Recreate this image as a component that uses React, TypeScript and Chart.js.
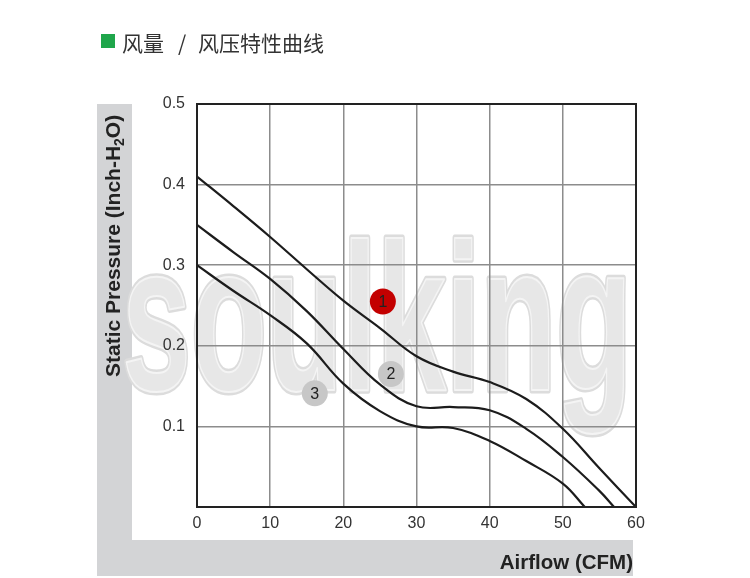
import React, { useEffect, useRef } from "react";
import { Chart, registerables } from "chart.js";

Chart.register(...registerables);

// ---- data ----
const curve1X = [0, 5, 10, 15, 20, 25, 30, 35, 40, 45, 50, 55, 60];
const curve1Y = [0.41, 0.373, 0.335, 0.295, 0.256, 0.222, 0.187, 0.168, 0.155, 0.134, 0.097, 0.048, 0];

const curve2X = [0, 5, 10, 15, 20, 25, 30, 35, 40, 45, 50, 55, 57];
const curve2Y = [0.35, 0.316, 0.283, 0.243, 0.196, 0.152, 0.125, 0.124, 0.12, 0.097, 0.062, 0.02, 0];

const curve3X = [0, 5, 10, 15, 20, 25, 30, 35, 40, 45, 50, 53];
const curve3Y = [0.3, 0.268, 0.238, 0.203, 0.153, 0.119, 0.1, 0.098, 0.082, 0.057, 0.029, 0];

const markerX = [25.4, 26.5, 16.1];
const markerY = [0.255, 0.165, 0.141];
const markerLabels = ["1", "2", "3"];

const xTickValues = [0, 10, 20, 30, 40, 50, 60];
const yTickLabels = ["", "0.1", "0.2", "0.3", "0.4", "0.5"];

const titleLeft = "风量";
const titleSlash = "/";
const titleRight = "风压特性曲线";
const xTitle = "Airflow (CFM)";
const yTitleMain = "Static Pressure (Inch-H";
const yTitleSub = "2";
const yTitleEnd = "O)";
const watermark = "soulking";

const toPts = (xs: number[], ys: number[]) => xs.map((x, i) => ({ x, y: ys[i] }));

const decorPlugin = {
  id: "decor",
  beforeDraw(chart: any) {
    const ctx = chart.ctx as CanvasRenderingContext2D;
    ctx.save();
    ctx.fillStyle = "#ffffff";
    ctx.fillRect(0, 0, chart.width, chart.height);
    // gray L-shaped bands
    ctx.fillStyle = "#d3d4d6";
    ctx.fillRect(97, 104, 35, 472);
    ctx.fillRect(97, 540, 536, 36);
    // watermark
    ctx.font = 'bold 210px "Liberation Sans", Arial, sans-serif';
    ctx.textBaseline = "alphabetic";
    ctx.textAlign = "left";
    const w = ctx.measureText(watermark).width;
    ctx.translate(122, 390);
    ctx.scale(510 / w, 1);
    ctx.lineJoin = "round";
    ctx.strokeStyle = "#dcdcdc";
    ctx.lineWidth = 7;
    ctx.strokeText(watermark, 0, 0);
    ctx.fillStyle = "#e7e7e7";
    ctx.fillText(watermark, 0, 0);
    ctx.strokeStyle = "#f4f4f4";
    ctx.lineWidth = 2;
    ctx.strokeText(watermark, 0, 0);
    ctx.restore();
  },
  afterDatasetsDraw(chart: any) {
    const ctx = chart.ctx as CanvasRenderingContext2D;
    const meta = chart.getDatasetMeta(3);
    ctx.save();
    ctx.font = '16px "Liberation Sans", Arial, sans-serif';
    ctx.fillStyle = "#222";
    ctx.textAlign = "center";
    ctx.textBaseline = "middle";
    meta.data.forEach((pt: any, i: number) => {
      ctx.fillText(markerLabels[i], pt.x, pt.y + 1);
    });
    ctx.restore();
  },
  afterDraw(chart: any) {
    const ctx = chart.ctx as CanvasRenderingContext2D;
    const a = chart.chartArea;
    ctx.save();
    // frame
    ctx.strokeStyle = "#222";
    ctx.lineWidth = 2;
    ctx.strokeRect(a.left, a.top, a.right - a.left, a.bottom - a.top);
    // header
    ctx.fillStyle = "#1fa64b";
    ctx.fillRect(101, 34, 14, 14);
    ctx.fillStyle = "#333";
    ctx.font = '21px "Noto Sans CJK SC", sans-serif';
    ctx.textBaseline = "middle";
    ctx.textAlign = "left";
    ctx.fillText(titleLeft, 122, 43);
    ctx.textAlign = "center";
    ctx.fillText(titleSlash, 182, 43);
    ctx.textAlign = "left";
    ctx.fillText(titleRight, 198, 43);
    // x title
    ctx.fillStyle = "#222";
    ctx.font = 'bold 20.5px "Liberation Sans", Arial, sans-serif';
    ctx.textAlign = "right";
    ctx.textBaseline = "alphabetic";
    ctx.fillText(xTitle, 633, 569);
    // y title (rotated)
    ctx.translate(120, 377);
    ctx.rotate(-Math.PI / 2);
    ctx.textAlign = "left";
    const boldBig = 'bold 21px "Liberation Sans", Arial, sans-serif';
    const boldSmall = 'bold 14px "Liberation Sans", Arial, sans-serif';
    ctx.font = boldBig;
    ctx.fillText(yTitleMain, 0, 0);
    let x = ctx.measureText(yTitleMain).width;
    ctx.font = boldSmall;
    ctx.fillText(yTitleSub, x, 4);
    x += ctx.measureText(yTitleSub).width;
    ctx.font = boldBig;
    ctx.fillText(yTitleEnd, x, 0);
    ctx.restore();
  },
};

export default function App() {
  const ref = useRef<HTMLCanvasElement>(null);
  useEffect(() => {
    if (!ref.current) return;
    const lineStyle = {
      borderColor: "#1c1c1c",
      borderWidth: 2.2,
      pointRadius: 0,
      fill: false,
      tension: 0.4,
    };
    const chart = new Chart(ref.current, {
      type: "line",
      data: {
        datasets: [
          { ...lineStyle, label: "1", data: toPts(curve1X, curve1Y) },
          { ...lineStyle, label: "2", data: toPts(curve2X, curve2Y) },
          { ...lineStyle, label: "3", data: toPts(curve3X, curve3Y) },
          {
            label: "markers",
            data: toPts(markerX, markerY),
            showLine: false,
            pointRadius: 13,
            pointHoverRadius: 13,
            pointBorderWidth: 0,
            pointBackgroundColor: ["#c30000", "#c7c7c7", "#c7c7c7"],
            borderColor: "rgba(0,0,0,0)",
          },
        ],
      },
      options: {
        responsive: false,
        animation: false,
        events: [],
        layout: { padding: { top: 104, right: 114, left: 0, bottom: 0 } },
        plugins: {
          legend: { display: false },
          tooltip: { enabled: false },
          title: { display: false },
        },
        scales: {
          x: {
            type: "linear",
            min: 0,
            max: 60,
            afterFit: (s: any) => {
              s.height = 71;
            },
            afterBuildTicks: (s: any) => {
              s.ticks = xTickValues.map((v) => ({ value: v }));
            },
            ticks: {
              color: "#333",
              font: { size: 16, family: '"Liberation Sans", Arial, sans-serif' },
              padding: 7,
              maxRotation: 0,
              callback: (v: any) => String(v),
            },
            grid: { color: "#8c8c8c", lineWidth: 1.5, drawTicks: false },
            border: { display: false },
          },
          y: {
            type: "linear",
            min: 0,
            max: 0.5,
            afterFit: (s: any) => {
              s.width = 197;
            },
            afterBuildTicks: (s: any) => {
              s.ticks = yTickLabels.map((_, i) => ({ value: i / 10 }));
            },
            ticks: {
              color: "#333",
              font: { size: 16, family: '"Liberation Sans", Arial, sans-serif' },
              padding: 12,
              callback: (_v: any, i: number) => yTickLabels[i],
            },
            grid: { color: "#8c8c8c", lineWidth: 1.5, drawTicks: false },
            border: { display: false },
          },
        },
      },
      plugins: [decorPlugin],
    });
    return () => chart.destroy();
  }, []);
  return (
    <div style={{ position: "absolute", left: 0, top: 0, width: 750, height: 578 }}>
      <canvas ref={ref} width={750} height={578} style={{ display: "block" }} />
    </div>
  );
}
